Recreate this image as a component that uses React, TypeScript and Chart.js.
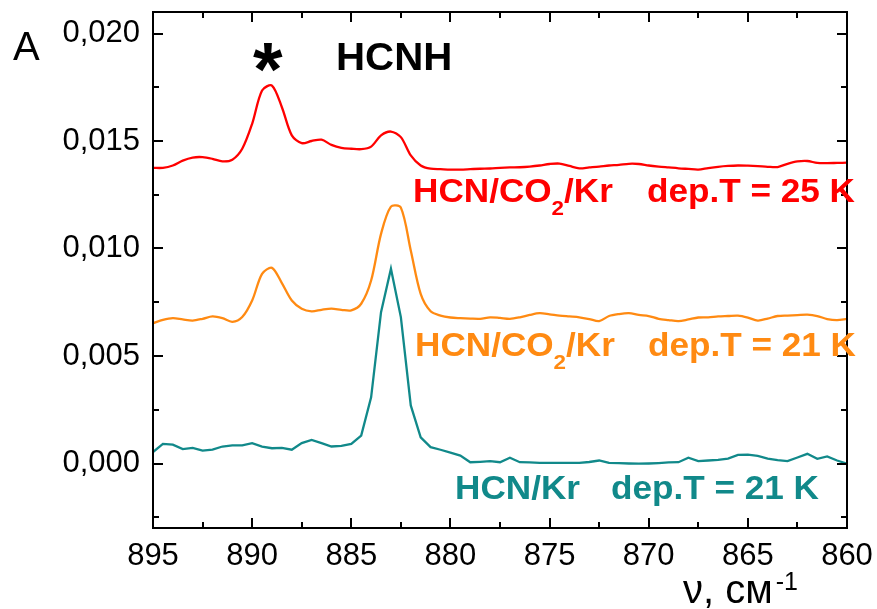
import React, { useEffect, useRef } from "react";
import { Chart, registerables } from "chart.js";

Chart.register(...registerables);

// Wavenumber grid (cm^-1)
const wavenumbers = [
  895, 894.5, 894, 893.5, 893, 892.5, 892, 891.5, 891, 890.5,
  890, 889.5, 889, 888.5, 888, 887.5, 887, 886.5, 886, 885.5,
  885, 884.5, 884, 883.5, 883, 882.5, 882, 881.5, 881, 880.5,
  880, 879.5, 879, 878.5, 878, 877.5, 877, 876.5, 876, 875.5,
  875, 874.5, 874, 873.5, 873, 872.5, 872, 871.5, 871, 870.5,
  870, 869.5, 869, 868.5, 868, 867.5, 867, 866.5, 866, 865.5,
  865, 864.5, 864, 863.5, 863, 862.5, 862, 861.5, 861, 860.5,
  860,
];

// HCN/CO2/Kr dep.T = 25 K (red)
const hcnCo2Kr25K = [
  0.01375, 0.01375, 0.01386, 0.01409, 0.01423, 0.01425, 0.01417, 0.01405, 0.01413, 0.01464,
  0.0158, 0.01735, 0.01758, 0.01657, 0.01526, 0.0149, 0.015, 0.01506, 0.01482, 0.01468,
  0.01464, 0.01462, 0.01474, 0.01526, 0.01544, 0.01518, 0.01433, 0.01386, 0.01371, 0.01369,
  0.01367, 0.01367, 0.01369, 0.01371, 0.01372, 0.01375, 0.01377, 0.01378, 0.01381, 0.01386,
  0.01393, 0.01395, 0.01384, 0.01373, 0.01377, 0.01381, 0.01386, 0.01389, 0.01394, 0.01393,
  0.01386, 0.01381, 0.01377, 0.01373, 0.0137, 0.01367, 0.01374, 0.0138, 0.01384, 0.01386,
  0.01385, 0.01383, 0.0138, 0.01379, 0.01394, 0.01405, 0.01407, 0.01398, 0.01397, 0.01398,
  0.01399,
];

// HCN/CO2/Kr dep.T = 21 K (orange)
const hcnCo2Kr21K = [
  0.00653, 0.00668, 0.00676, 0.0067, 0.00665, 0.00673, 0.00684, 0.00676, 0.00659, 0.00681,
  0.00758, 0.00882, 0.0091, 0.00839, 0.00758, 0.0072, 0.00708, 0.00715, 0.0072, 0.00715,
  0.00712, 0.00743, 0.00851, 0.01068, 0.01195, 0.0119, 0.00991, 0.00789, 0.00708, 0.00688,
  0.00679, 0.00676, 0.00674, 0.00673, 0.0068, 0.00677, 0.00673, 0.0068, 0.00691, 0.00699,
  0.00694, 0.00688, 0.00684, 0.0068, 0.00672, 0.00662, 0.00686, 0.00695, 0.00699, 0.00691,
  0.00686, 0.00673, 0.00667, 0.00662, 0.0067, 0.00679, 0.0068, 0.00684, 0.00686, 0.00688,
  0.00679, 0.00665, 0.00674, 0.00686, 0.00688, 0.0069, 0.00692, 0.00686, 0.00672, 0.00667,
  0.00673,
];

// HCN/Kr dep.T = 21 K (teal)
const hcnKr21K = [
  0.00053, 0.00091, 0.00088, 0.00067, 0.00073, 0.0006, 0.00065, 0.00079, 0.00084, 0.00084,
  0.00095, 0.00079, 0.00071, 0.00073, 0.00064, 0.00095, 0.0011, 0.00095, 0.00079, 0.00082,
  0.00091, 0.0013, 0.00308, 0.00704, 0.00906, 0.00681, 0.0027, 0.00122, 0.00076, 0.00064,
  0.00051, 0.00037, 0.00006, 0.00008, 0.00011, 0.00006, 0.00027, 0.00006, 0.00005, 0.00003,
  0.00003, 0.00003, 0.00003, 0.00003, 0.00007, 0.00014, 0.00003, 0.00002, 0.0, -0.00001,
  0.0, 0.00002, 0.00005, 0.00006, 0.00027, 0.00011, 0.00014, 0.00017, 0.00023, 0.0004,
  0.00041, 0.00035, 0.00023, 0.00016, 0.00011, 0.00028, 0.00045, 0.00022, 0.00033, 0.00014,
  -0.00001,
];

const xRange = [860, 895];
const yRange = [-0.003, 0.021];
const xStep = 5;
const yStep = 0.005;

const RED = "#ff0000";
const ORANGE = "#ff8a12";
const TEAL = "#11898a";

const panelLetter = "A";
const starText = "*";
const hcnhText = "HCNH";
const axisTitleMain = "ν, см";
const axisTitleSup = "-1";
const labelDep25 = "dep.T = 25 K";
const labelDep21 = "dep.T = 21 K";

const FONT = '"Liberation Sans", Arial, sans-serif';

function drawText(ctx: CanvasRenderingContext2D, text: string, x: number, y: number, size: number, color: string, bold: boolean, sx = 1) {
  ctx.save();
  ctx.translate(x, y);
  ctx.scale(sx, 1);
  ctx.font = `${bold ? "bold " : ""}${size}px ${FONT}`;
  ctx.fillStyle = color;
  ctx.textAlign = "left";
  ctx.textBaseline = "alphabetic";
  ctx.fillText(text, 0, 0);
  const w = ctx.measureText(text).width * sx;
  ctx.restore();
  return w;
}

function drawFormula(ctx: CanvasRenderingContext2D, parts: { t: string; sub?: boolean }[], x: number, y: number, color: string) {
  let cx = x;
  const SX = 1.065;
  for (const p of parts) {
    if (p.sub) cx += drawText(ctx, p.t, cx, y + 13, 21, color, true, SX);
    else cx += drawText(ctx, p.t, cx, y, 33, color, true, SX);
  }
}

const framePlugin = {
  id: "frameTicks",
  afterDraw(chart: any) {
    const ctx: CanvasRenderingContext2D = chart.ctx;
    const { left, right, top, bottom } = chart.chartArea;
    const xs = chart.scales.x;
    const ys = chart.scales.y;
    ctx.save();
    ctx.strokeStyle = "#000";
    ctx.lineWidth = 2;
    ctx.strokeRect(left, top, right - left, bottom - top);
    ctx.beginPath();
    const xHalf = xStep / 2;
    for (let v = Math.ceil(xs.min / xHalf) * xHalf; v <= xs.max + 1e-9; v += xHalf) {
      const major = Math.abs(v / xStep - Math.round(v / xStep)) < 1e-6;
      const len = major ? 10 : 6;
      const px = Math.round(xs.getPixelForValue(v));
      ctx.moveTo(px, bottom);
      ctx.lineTo(px, bottom - len);
      ctx.moveTo(px, top);
      ctx.lineTo(px, top + len);
    }
    const yHalf = yStep / 2;
    for (let k = Math.ceil(ys.min / yHalf - 1e-9); k * yHalf <= ys.max + 1e-12; k++) {
      const v = k * yHalf;
      const major = k % 2 === 0;
      const len = major ? 10 : 6;
      const py = Math.round(ys.getPixelForValue(v));
      ctx.moveTo(left, py);
      ctx.lineTo(left + len, py);
      ctx.moveTo(right, py);
      ctx.lineTo(right - len, py);
    }
    ctx.stroke();
    ctx.restore();

    // annotations
    drawText(ctx, panelLetter, 13, 60, 40, "#000", false);
    ctx.save();
    ctx.font = `bold 76px ${FONT}`;
    const m = ctx.measureText(starText);
    const sw = m.actualBoundingBoxRight + m.actualBoundingBoxLeft;
    const sh = m.actualBoundingBoxAscent + m.actualBoundingBoxDescent;
    ctx.fillStyle = "#000";
    ctx.fillText(starText, 268 - sw / 2 + m.actualBoundingBoxLeft, 57 - sh / 2 + m.actualBoundingBoxAscent);
    ctx.restore();
    drawText(ctx, hcnhText, 336, 70, 38, "#000", true, 1.06);

    drawFormula(ctx, [{ t: "HCN/CO" }, { t: "2", sub: true }, { t: "/Kr" }], 413, 202, RED);
    drawText(ctx, labelDep25, 647, 202, 33, RED, true, 1.065);
    drawFormula(ctx, [{ t: "HCN/CO" }, { t: "2", sub: true }, { t: "/Kr" }], 415, 356, ORANGE);
    drawText(ctx, labelDep21, 648, 356, 33, ORANGE, true, 1.065);
    drawFormula(ctx, [{ t: "HCN/Kr" }], 455, 499, TEAL);
    drawText(ctx, labelDep21, 611, 499, 33, TEAL, true, 1.065);

    const tw = drawText(ctx, axisTitleMain, 683, 603, 40, "#000", false);
    drawText(ctx, axisTitleSup, 683 + tw + 3, 590, 25, "#000", false);
  },
};

export default function App() {
  const ref = useRef<HTMLCanvasElement | null>(null);
  useEffect(() => {
    if (!ref.current) return;
    const mk = (vals: number[]) => wavenumbers.map((x, i) => ({ x, y: vals[i] }));
    const chart = new Chart(ref.current, {
      type: "line",
      data: {
        datasets: [
          { label: "HCN/CO2/Kr 25 K", data: mk(hcnCo2Kr25K), borderColor: RED, borderWidth: 2.3, pointRadius: 0, tension: 0.3, fill: false },
          { label: "HCN/CO2/Kr 21 K", data: mk(hcnCo2Kr21K), borderColor: ORANGE, borderWidth: 2.3, pointRadius: 0, tension: 0.3, fill: false },
          { label: "HCN/Kr 21 K", data: mk(hcnKr21K), borderColor: TEAL, borderWidth: 2.3, pointRadius: 0, tension: 0, fill: false },
        ],
      },
      options: {
        animation: false,
        responsive: false,
        devicePixelRatio: 1,
        layout: { padding: { left: 0, top: 12, right: 30, bottom: 0 } },
        plugins: { legend: { display: false }, tooltip: { enabled: false }, title: { display: false } },
        scales: {
          x: {
            type: "linear",
            reverse: true,
            min: xRange[0],
            max: xRange[1],
            grid: { display: false, drawTicks: false },
            border: { display: false },
            ticks: {
              stepSize: xStep,
              includeBounds: false,
              padding: 10,
              color: "#000",
              font: { family: FONT, size: 31 },
              maxRotation: 0,
              autoSkip: false,
              callback: (v: any) => String(v),
            },
            afterFit: (s: any) => { s.height = 81; s.paddingLeft = 0; s.paddingRight = 0; },
          },
          y: {
            type: "linear",
            min: yRange[0],
            max: yRange[1],
            grid: { display: false, drawTicks: false },
            border: { display: false },
            ticks: {
              stepSize: yStep,
              includeBounds: false,
              padding: 13,
              color: "#000",
              font: { family: FONT, size: 31 },
              callback: (v: any) => Number(v).toFixed(3).replace(".", ","),
            },
            afterFit: (s: any) => { s.width = 153; s.paddingTop = 0; s.paddingBottom = 0; },
          },
        },
      },
      plugins: [framePlugin],
    });
    return () => chart.destroy();
  }, []);
  return (
    <div style={{ position: "fixed", left: 0, top: 0, width: 877, height: 609, background: "#fff" }}>
      <canvas ref={ref} width={877} height={609} style={{ width: 877, height: 609, display: "block" }} />
    </div>
  );
}
